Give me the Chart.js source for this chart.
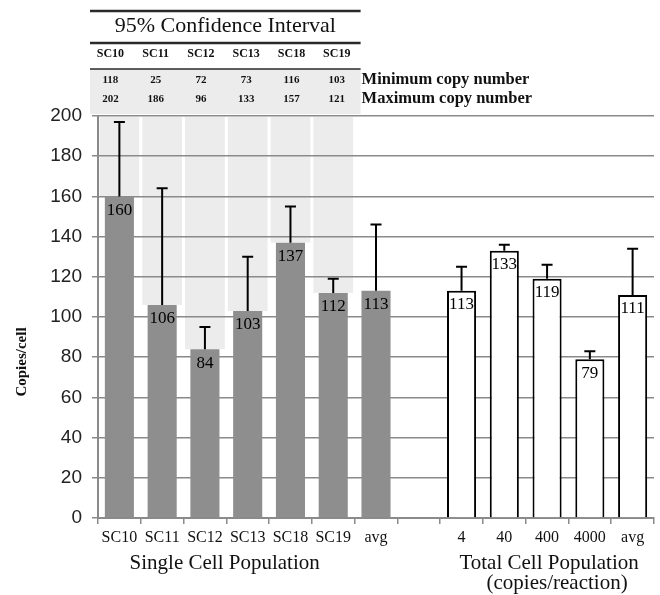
<!DOCTYPE html>
<html><head><meta charset="utf-8">
<script src="https://cdn.jsdelivr.net/npm/chart.js@4"></script>
<style>html,body{margin:0;padding:0;background:#fff}#wrap{width:660px;height:595px;position:relative}</style>
</head><body><div id="wrap"><canvas id="c" width="660" height="595"></canvas></div>
<script>
const categories = ['SC10','SC11','SC12','SC13','SC18','SC19','avg','','4','40','400','4000','avg'];
const singleValues = [160,106,84,103,137,112,113];
const singleErrTop = [197,164,95,130,155,119,146];
const totalValues = [113,133,119,79,111];
const totalErrTop = [125,136,126,83,134];
const ciColumns = ['SC10','SC11','SC12','SC13','SC18','SC19'];
const ciMin = [118,25,72,73,116,103];
const ciMax = [202,186,96,133,157,121];
const ciRowLabels = ['Minimum copy number','Maximum copy number'];
const ciTitle = '95% Confidence Interval';
const yTitle = 'Copies/cell';
const groupLabels = ['Single Cell Population','Total Cell Population','(copies/reaction)'];
const yMin = 0, yMax = 200, yStep = 20;

const nS = singleValues.length;
const offT = categories.length - totalValues.length;
const singleData = categories.map((c,i)=> i < nS ? singleValues[i] : null);
const totalData = categories.map((c,i)=> i >= offT ? totalValues[i-offT] : null);
const singleErr = categories.map((c,i)=> i < nS ? singleErrTop[i] : null);
const totalErr = categories.map((c,i)=> i >= offT ? totalErrTop[i-offT] : null);

const SERIF = '"Liberation Serif", "Times New Roman", serif';
const SANS = '"Liberation Sans", Arial, sans-serif';

const extras = {
  id: 'extras',
  beforeDraw(chart){
    const {ctx, chartArea: ca, scales: {x, y}} = chart;
    const slot = x.getPixelForValue(1) - x.getPixelForValue(0);
    const bandL = ca.left - 8;
    const bandR = x.getPixelForValue(ciColumns.length - 1) + slot/2 + 6;
    ctx.save();
    ctx.fillStyle = '#ececec';
    ctx.fillRect(bandL, 69, bandR - bandL, 45);
    ciColumns.forEach((c, i) => {
      const cx = x.getPixelForValue(i);
      const top = ca.top + 1;
      const bot = y.getPixelForValue(singleValues[i]);
      ctx.fillRect(cx - slot/2 + 1.5, top, slot - 3, bot - top);
    });
    // table rules
    ctx.strokeStyle = '#2a2a2a';
    ctx.lineWidth = 2.5;
    [11, 43].forEach(yy => { ctx.beginPath(); ctx.moveTo(bandL, yy); ctx.lineTo(bandR, yy); ctx.stroke(); });
    ctx.lineWidth = 1.5;
    ctx.beginPath(); ctx.moveTo(bandL, 69); ctx.lineTo(bandR, 69); ctx.stroke();
    ctx.fillStyle = '#111';
    ctx.textAlign = 'center'; ctx.textBaseline = 'middle';
    ctx.font = '22px ' + SERIF;
    ctx.fillText(ciTitle, (bandL + bandR)/2, 26);
    ciColumns.forEach((c, i) => {
      const cx = x.getPixelForValue(i) - 9 + 2.5*i;
      ctx.font = 'bold 12px ' + SERIF;
      ctx.fillText(c, cx, 54);
      ctx.font = 'bold 11px ' + SERIF;
      ctx.fillText(String(ciMin[i]), cx, 80);
      ctx.fillText(String(ciMax[i]), cx, 99);
    });
    ctx.textAlign = 'left';
    ctx.font = 'bold 16.5px ' + SERIF;
    ctx.fillText(ciRowLabels[0], bandR + 1, 80);
    ctx.fillText(ciRowLabels[1], bandR + 1, 99);
    // y title
    ctx.save();
    ctx.translate(22, 362);
    ctx.rotate(-Math.PI/2);
    ctx.textAlign = 'center';
    ctx.font = 'bold 15px ' + SERIF;
    ctx.fillText(yTitle, 0, 0);
    ctx.restore();
    // group labels
    ctx.textAlign = 'center';
    ctx.font = '21px ' + SERIF;
    const gS = (x.getPixelForValue(0) + x.getPixelForValue(nS - 1))/2 - 23;
    const gT = (x.getPixelForValue(offT) + x.getPixelForValue(categories.length - 1))/2 + 2;
    ctx.fillText(groupLabels[0], gS, 563);
    ctx.fillText(groupLabels[1], gT, 563);
    ctx.fillText(groupLabels[2], gT + 8, 583);
    ctx.restore();
  },
  afterDatasetsDraw(chart){
    const {ctx, scales: {y}} = chart;
    ctx.save();
    [[0, singleErr, singleData], [1, totalErr, totalData]].forEach(([di, errs, vals]) => {
      const meta = chart.getDatasetMeta(di);
      meta.data.forEach((bar, i) => {
        if (vals[i] == null) return;
        const yv = y.getPixelForValue(vals[i]);
        const ye = y.getPixelForValue(errs[i]);
        ctx.strokeStyle = '#000'; ctx.lineWidth = 2;
        ctx.beginPath(); ctx.moveTo(bar.x, yv); ctx.lineTo(bar.x, ye);
        ctx.moveTo(bar.x - 5.5, ye); ctx.lineTo(bar.x + 5.5, ye); ctx.stroke();
        ctx.fillStyle = '#000';
        ctx.font = '17px ' + SERIF;
        ctx.textAlign = 'center'; ctx.textBaseline = 'middle';
        ctx.fillText(String(vals[i]), bar.x, yv + 14);
      });
    });
    ctx.restore();
  }
};

new Chart(document.getElementById('c'), {
  type: 'bar',
  data: {
    labels: categories,
    datasets: [
      { data: singleData, backgroundColor: '#8e8e8e', borderWidth: 0, grouped: false,
        barPercentage: 0.68, categoryPercentage: 1 },
      { data: totalData, backgroundColor: '#ffffff', borderColor: '#000', borderWidth: 2,
        borderSkipped: 'bottom', grouped: false, barPercentage: 0.68, categoryPercentage: 1 }
    ]
  },
  options: {
    responsive: false, animation: false, devicePixelRatio: 1,
    layout: { padding: { top: 116, right: 6, left: 1, bottom: 0 } },
    plugins: { legend: { display: false }, tooltip: { enabled: false } },
    scales: {
      x: {
        offset: true,
        grid: { offset: true, drawOnChartArea: false, tickLength: 6, color: '#8a8a8a', lineWidth: 1.5 },
        border: { color: '#8a8a8a', width: 2 },
        ticks: { color: '#111', font: { family: SERIF, size: 16 }, padding: 4, maxRotation: 0, autoSkip: false },
        afterFit: s => { s.height = 77; }
      },
      y: {
        min: yMin, max: yMax,
        ticks: { stepSize: yStep, color: '#222', font: { family: SANS, size: 19 }, padding: 10 },
        grid: { color: '#8a8a8a', lineWidth: 1.5, tickLength: 6 },
        border: { color: '#8a8a8a', width: 2 },
        afterFit: s => { s.width = 97; }
      }
    }
  },
  plugins: [extras]
});
</script></body></html>
